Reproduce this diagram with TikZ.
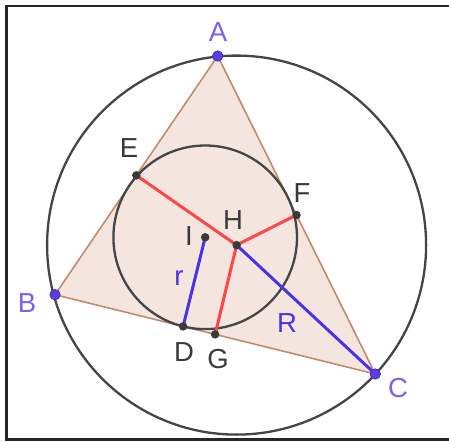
\documentclass[tikz,border=0pt]{standalone}
\usepackage{fontspec}
\setmainfont{Liberation Sans}
\usetikzlibrary{calc}
\definecolor{ptblue}{HTML}{5A3CE8}
\definecolor{lblblue}{HTML}{7A62EE}
\definecolor{segblue}{HTML}{4A32E6}
\definecolor{segred}{HTML}{FF4545}
\definecolor{trifill}{HTML}{F4E6DF}
\definecolor{triedge}{HTML}{C48A6C}
\definecolor{circ}{HTML}{454545}
\definecolor{dk}{HTML}{3A3A3A}
\tikzset{
  bluept/.style={circle,fill=ptblue,draw=ptblue!70!black,line width=0.6pt,inner sep=0pt,minimum size=10.5pt},
  darkpt/.style={circle,fill=dk,inner sep=0pt,minimum size=8.5pt},
  lbl/.style={font=\fontsize{27.5}{31}\selectfont,text=dk,inner sep=0pt},
  lblb/.style={font=\fontsize{27.5}{31}\selectfont,text=lblblue,inner sep=0pt},
  lbls/.style={font=\fontsize{27.5}{31}\selectfont,text=segblue,inner sep=0pt},
  circline/.style={draw=circ,line width=2.3pt},
  redseg/.style={draw=segred,line width=3pt},
  blueseg/.style={draw=segblue,line width=3pt},
  frameline/.style={draw=black!85,line width=2.6pt}
}
\begin{document}
\begin{tikzpicture}[x=1pt,y=-1pt]
\useasboundingbox (0,0) rectangle (449,441);
\fill[white] (0,0) rectangle (449,441);
% frame
\coordinate (f1) at (449,6);
\coordinate (f2) at (6.5,6);
\coordinate (f3) at (6.5,439.5);
\coordinate (f4) at (449,439.5);
\draw[frameline] (f1) -- (f2) -- (f3) -- (f4);
% points
\coordinate (A) at (217.7,56);
\coordinate (B) at (55,294.7);
\coordinate (C) at (375.3,374);
\coordinate (H) at (236.6,245.1);
\coordinate (I) at (205.2,237.3);
\coordinate (E) at ($(A)!0.5!(B)$);
\coordinate (F) at ($(A)!0.5!(C)$);
\coordinate (G) at ($(B)!0.5!(C)$);
\coordinate (D) at ($(B)!(I)!(C)$);
% triangle
\filldraw[fill=trifill,draw=triedge,line width=1.6pt] (A) -- (B) -- (C) -- cycle;
% circles
\draw[circline] (H) circle[radius=189.5pt];
\draw[circline] (I) circle[radius=91.8pt];
% segments
\draw[redseg] (H) -- (E);
\draw[redseg] (H) -- (F);
\draw[redseg] (H) -- (G);
\draw[blueseg] (I) -- (D);
\draw[blueseg] (H) -- (C);
% point markers
\node[bluept] (pA) at (A) {};
\node[bluept] (pB) at (B) {};
\node[bluept] (pC) at (C) {};
\node[darkpt] (pE) at (E) {};
\node[darkpt] (pF) at (F) {};
\node[darkpt] (pG) at (G) {};
\node[darkpt] (pD) at (D) {};
\node[darkpt] (pH) at (H) {};
\node[darkpt] (pI) at (I) {};
% labels
\node[lblb] (lA) at (218,32) {A};
\node[lblb] (lB) at (27,303) {B};
\node[lblb] (lC) at (398,388) {C};
\node[lbl] (lE) at (129,148) {E};
\node[lbl] (lF) at (302,193) {F};
\node[lbl] (lH) at (233,220) {H};
\node[lbl] (lI) at (189,236) {I};
\node[lbl] (lD) at (184,352) {D};
\node[lbl] (lG) at (218,359) {G};
\node[lbls] (lr) at (179,278) {r};
\node[lbls] (lR) at (287,323) {R};
\end{tikzpicture}
\end{document}
